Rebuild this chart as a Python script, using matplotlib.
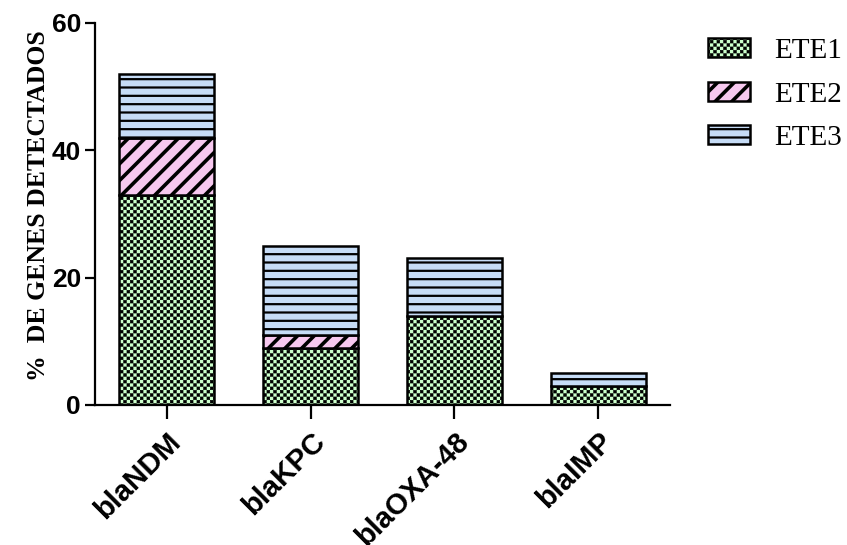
import numpy as np
import matplotlib
matplotlib.use("Agg")
import matplotlib.pyplot as plt
import matplotlib.hatch as mhatch
import matplotlib.transforms as mtransforms
from matplotlib.path import Path

# ---- datos ----
genes = ['blaNDM', 'blaKPC', 'blaOXA-48', 'blaIMP']
ete1 = [33, 9, 14, 3]
ete2 = [9, 2, 0, 0]
ete3 = [10, 14, 9, 2]
series = ['ETE1', 'ETE2', 'ETE3']
yticks = [0, 20, 40, 60]

CHECKER_LW = 0.4  # pt, trazo del damero


# ---- trama de damero (reemplaza el patron 'O') ----
class CheckerHatch(mhatch.HatchPatternBase):
    def __init__(self, hatch, density):
        self.n = 30 if 'O' in hatch else 0
        self.num_vertices = 5 * (self.n * self.n // 2)

    def set_vertices_and_codes(self, vertices, codes):
        c = 1.0 / self.n
        pad = CHECKER_LW / 72.0
        s = c - pad
        k = 0
        for i in range(self.n):
            for j in range(self.n):
                if (i + j) % 2:
                    continue
                x0 = j * c + pad / 2
                y0 = i * c + pad / 2
                vertices[k:k + 5] = [(x0, y0), (x0 + s, y0), (x0 + s, y0 + s),
                                     (x0, y0 + s), (x0, y0)]
                codes[k:k + 5] = [Path.MOVETO, Path.LINETO, Path.LINETO,
                                  Path.LINETO, Path.CLOSEPOLY]
                k += 5


mhatch._hatch_types[mhatch._hatch_types.index(mhatch.LargeCircles)] = CheckerHatch

colors = ['#ccffcc', '#f7c8ef', '#c6dcf6']
hatches = ['O', '//', '--']
hatch_lw = [CHECKER_LW, 2.6, 1.6]


def set_hlw(patch, lw):
    if hasattr(patch, 'set_hatch_linewidth'):
        patch.set_hatch_linewidth(lw)


fig = plt.figure(figsize=(8.47, 5.45), dpi=100)
ax = fig.add_axes([0.112, 0.257, 0.679, 0.701])

x = np.arange(len(genes))
bottom = np.zeros(len(genes))
for vals, name, col, h, lw in zip([ete1, ete2, ete3], series, colors, hatches, hatch_lw):
    plt.rcParams['hatch.linewidth'] = lw
    bars = ax.bar(x, vals, width=0.66, bottom=bottom, color=col, edgecolor='black',
                  linewidth=1.8, hatch=h, label=name)
    for b in bars:
        set_hlw(b, lw)
        if b.get_height() == 0:
            b.set_visible(False)
    bottom += np.array(vals)

ax.set_xlim(-0.5, 3.5)
ax.set_ylim(0, 60)
ax.set_yticks(yticks)
ax.set_yticklabels([str(t) for t in yticks], fontsize=19, fontweight='bold',
                   family='Liberation Sans')
ax.set_xticks(x)
ax.set_xticklabels(genes, rotation=45, ha='right', va='top', rotation_mode='anchor',
                   fontsize=21, fontweight='bold', family='Liberation Sans')
shift = mtransforms.ScaledTranslation(-4 / 100, 0, fig.dpi_scale_trans)
for lab in ax.get_xticklabels():
    lab.set_transform(lab.get_transform() + shift)
for s in ['top', 'right']:
    ax.spines[s].set_visible(False)
for s in ['left', 'bottom']:
    ax.spines[s].set_linewidth(1.6)
ax.tick_params(axis='y', length=7, width=1.6, pad=3)
ax.tick_params(axis='x', length=10, width=1.6, pad=6)

ax.set_ylabel('%  DE GENES DETECTADOS', fontsize=18.5, fontweight='bold',
              family='Liberation Serif')
ax.yaxis.set_label_coords(-0.078, 0.521)

leg = fig.legend(loc='upper left', bbox_to_anchor=(0.836, 0.930), frameon=False,
                 prop={'family': 'Liberation Serif', 'size': 21},
                 handlelength=1.45, handleheight=0.62, handletextpad=0.8,
                 labelspacing=0.6, borderpad=0, borderaxespad=0)
for hnd, lw in zip(leg.legend_handles, hatch_lw):
    set_hlw(hnd, lw)

fig.savefig('out.png', dpi=100)
